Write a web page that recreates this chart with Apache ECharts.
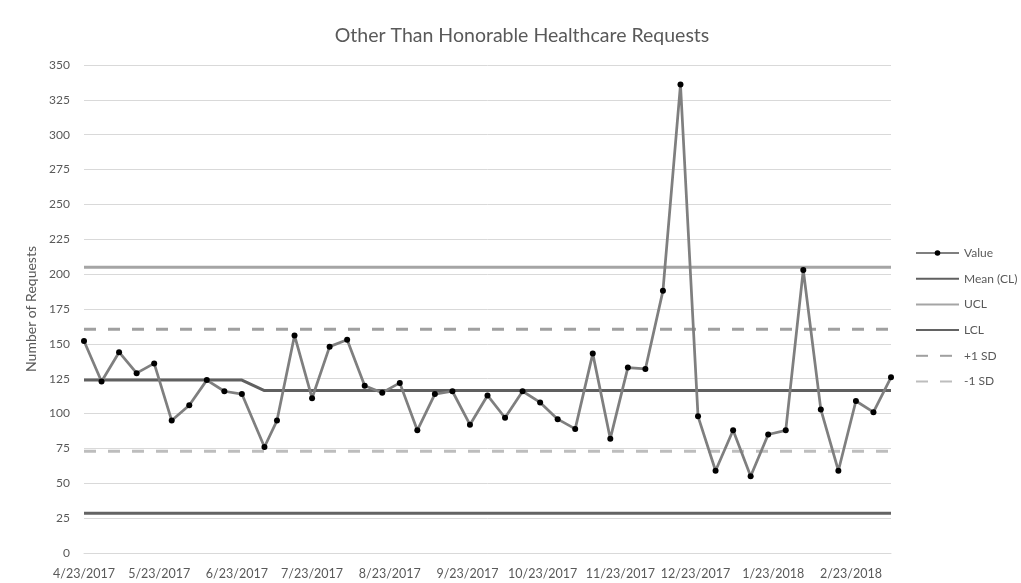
<!DOCTYPE html>
<html>
<head>
<meta charset="utf-8">
<script src="https://cdn.jsdelivr.net/npm/echarts@6/dist/echarts.min.js"></script>
<style>
html,body{margin:0;padding:0;background:#fff;}
#chart{width:1021px;height:583px;}
</style>
</head>
<body>
<div id="chart"></div>
<script>
// ---- data ----
var dates = ['2017-04-23','2017-04-30','2017-05-07','2017-05-14','2017-05-21','2017-05-28','2017-06-04','2017-06-11','2017-06-18','2017-06-25',
  '2017-07-04','2017-07-09','2017-07-16','2017-07-23','2017-07-30','2017-08-06','2017-08-13','2017-08-20','2017-08-27',
  '2017-09-03','2017-09-10','2017-09-17','2017-09-24','2017-10-01','2017-10-08','2017-10-15','2017-10-22','2017-10-29',
  '2017-11-05','2017-11-12','2017-11-19','2017-11-26','2017-12-03','2017-12-10','2017-12-17','2017-12-24','2017-12-31',
  '2018-01-07','2018-01-14','2018-01-21','2018-01-28','2018-02-04','2018-02-11','2018-02-18','2018-02-25','2018-03-04','2018-03-11'];
var values = [152,123,144,129,136,95,106,124,116,114,
  76,95,156,111,148,153,120,115,122,88,114,116,92,113,97,116,108,96,89,
  143,82,133,132,188,336,98,59,88,55,85,88,203,103,59,109,101,126];
var meanCL = [124,124,124,124,124,124,124,124,124,124,
  116.5,116.5,116.5,116.5,116.5,116.5,116.5,116.5,116.5,116.5,116.5,116.5,116.5,116.5,116.5,116.5,116.5,116.5,116.5,
  116.5,116.5,116.5,116.5,116.5,116.5,116.5,116.5,116.5,116.5,116.5,116.5,116.5,116.5,116.5,116.5,116.5,116.5];
var ucl = 205;
var lcl = 28.5;
var plus1SD = 160.5;
var minus1SD = 73;
var tickDates = ['2017-04-23','2017-05-23','2017-06-23','2017-07-23','2017-08-23','2017-09-23','2017-10-23','2017-11-23','2017-12-23','2018-01-23','2018-02-23'];
var seriesNames = ['Value','Mean (CL)','UCL','LCL','+1 SD','-1 SD'];
var title = 'Other Than Honorable Healthcare Requests';
var yName = 'Number of Requests';

function ts(s){ var p = s.split('-'); return Date.UTC(+p[0], +p[1]-1, +p[2]); }
function pairs(arr){ return dates.map(function(d,i){ return [ts(d), arr[i]]; }); }
function constant(v){ return dates.map(function(d){ return [ts(d), v]; }); }

var FONT = 'Lato';
var TXT = '#595959';

var legendData = seriesNames.map(function(n, i){
  return i === 0 ? {name:n} : {name:n, itemStyle:{opacity:0}};
});

var chart = echarts.init(document.getElementById('chart'), null, {renderer:'canvas'});
chart.setOption({
  backgroundColor:'#ffffff',
  animation:false,
  title:{
    text:title, left:517, top:21, textAlign:'center',
    textStyle:{fontFamily:FONT, fontSize:19.5, fontWeight:'normal', color:TXT}
  },
  grid:{left:84, right:130, top:65, bottom:30, containLabel:false},
  legend:{
    orient:'vertical', left:915, top:247, padding:0,
    data:legendData,
    itemWidth:43, itemHeight:7, itemGap:13.7,
    textStyle:{fontFamily:FONT, fontSize:12, color:TXT}
  },
  xAxis:{
    type:'value',
    min:ts(dates[0]), max:ts(dates[dates.length-1]),
    axisLine:{show:true, lineStyle:{color:'#d9d9d9', width:1}},
    axisTick:{show:false},
    splitLine:{show:false},
    axisLabel:{
      customValues: tickDates.map(ts),
      fontFamily:FONT, fontSize:12.5, color:TXT, margin:14,
      formatter:function(v){ var d=new Date(v); return (d.getUTCMonth()+1)+'/'+d.getUTCDate()+'/'+d.getUTCFullYear(); }
    }
  },
  yAxis:{
    type:'value', min:0, max:350, interval:25,
    name:yName, nameLocation:'middle', nameGap:40,
    nameTextStyle:{fontFamily:FONT, fontSize:14, color:TXT},
    axisLine:{show:false}, axisTick:{show:false},
    splitLine:{show:true, lineStyle:{color:'#d9d9d9', width:1}},
    axisLabel:{fontFamily:FONT, fontSize:12, color:TXT, margin:14}
  },
  series:[
    {name:'Value', type:'line', z:10, data:pairs(values),
     symbol:'circle', symbolSize:6, showAllSymbol:true,
     lineStyle:{color:'#7f7f7f', width:2.75},
     itemStyle:{color:'#000000', borderWidth:0}},
    {name:'Mean (CL)', type:'line', z:5, data:pairs(meanCL), symbol:'none',
     lineStyle:{color:'#606060', width:3}, itemStyle:{color:'#606060'}},
    {name:'UCL', type:'line', z:4, data:constant(ucl), symbol:'none',
     lineStyle:{color:'#a5a5a5', width:3}, itemStyle:{color:'#a5a5a5'}},
    {name:'LCL', type:'line', z:4, data:constant(lcl), symbol:'none',
     lineStyle:{color:'#636363', width:3}, itemStyle:{color:'#636363'}},
    {name:'+1 SD', type:'line', z:4, data:constant(plus1SD), symbol:'none',
     lineStyle:{color:'#a0a0a0', width:3, type:[12,12]}, itemStyle:{color:'#a0a0a0'}},
    {name:'-1 SD', type:'line', z:4, data:constant(minus1SD), symbol:'none',
     lineStyle:{color:'#bdbdbd', width:3, type:[12,12]}, itemStyle:{color:'#bdbdbd'}}
  ]
});
</script>
</body>
</html>
